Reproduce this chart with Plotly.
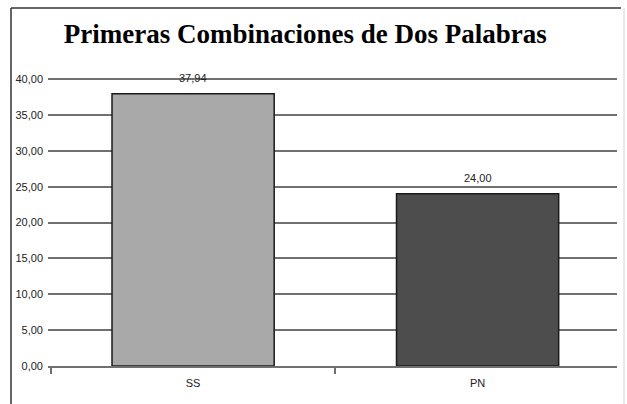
import plotly.graph_objects as go

# ── Data ──────────────────────────────────────────────────────────────────────
categories = ["SS", "PN"]
values = [37.94, 24.00]
bar_colors = ["#a9a9a9", "#4d4d4d"]
y_ticks = [0, 5, 10, 15, 20, 25, 30, 35, 40]

TICK_FONT = "Liberation Sans Narrow, Liberation Sans, Arial, sans-serif"

fig = go.Figure(
    go.Bar(
        x=categories, y=values,
        marker=dict(color=bar_colors, line=dict(color="#1a1a1a", width=1.5)),
        width=0.57,
        showlegend=False,
        hoverinfo="skip",
    )
)

# value labels above bars
for c, v in zip(categories, values):
    fig.add_annotation(
        x=c, y=v, text=f"{v:.2f}".replace(".", ","),
        showarrow=False, yanchor="bottom", yshift=8,
        font=dict(family=TICK_FONT, size=11, color="#222"),
    )

# outer frame (left + top dark, right light)
L, R, T, B = 48, 10, 78, 38
W, H = 627 - L - R, 404 - T - B
def px_x(p): return (p - L) / W
def px_y(p): return (404 - B - p) / H
fig.add_shape(type="line", xref="paper", yref="paper",
              x0=px_x(11), x1=px_x(11), y0=px_y(8), y1=px_y(410),
              line=dict(color="#333", width=1.5))
fig.add_shape(type="line", xref="paper", yref="paper",
              x0=px_x(11), x1=px_x(621), y0=px_y(8), y1=px_y(8),
              line=dict(color="#333", width=1.5))
fig.add_shape(type="line", xref="paper", yref="paper",
              x0=px_x(624), x1=px_x(624), y0=px_y(8), y1=px_y(410),
              line=dict(color="#d5d5d5", width=1))

fig.update_layout(
    width=627, height=404,
    margin=dict(l=L, r=R, t=T, b=B),
    paper_bgcolor="white", plot_bgcolor="white",
    title=dict(
        text="<b>Primeras Combinaciones de Dos Palabras</b>",
        font=dict(family="Liberation Serif, Times New Roman, serif", size=27, color="black"),
        x=0.487, xanchor="center", y=0.918, yanchor="middle",
    ),
    bargap=0.43,
)
fig.update_yaxes(
    range=[0, 40.15], tickvals=y_ticks,
    ticktext=[f"{t:.2f}".replace(".", ",") for t in y_ticks],
    showgrid=True, gridcolor="#707070", gridwidth=2,
    zeroline=False, showline=False,
    ticks="", ticklabelstandoff=4,
    tickfont=dict(family=TICK_FONT, size=11, color="#222"),
)
fig.update_xaxes(
    range=[-0.51, 1.49],
    showline=True, linecolor="#707070", linewidth=2,
    ticks="outside", ticklen=6, tickcolor="#707070", tickwidth=1.5,
    tickson="boundaries", ticklabelstandoff=6,
    tickfont=dict(family=TICK_FONT, size=11, color="#222"),
)

fig.write_html(
    "out.html",
    config={"displayModeBar": False},
    post_script="document.body.style.margin='0';",
)
